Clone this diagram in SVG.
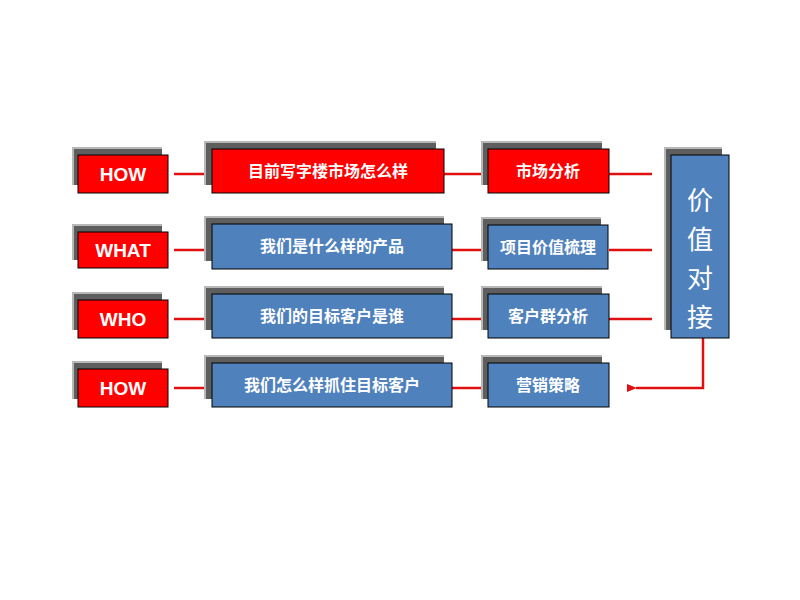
<svg xmlns="http://www.w3.org/2000/svg" width="800" height="600" viewBox="0 0 800 600">
<defs>
<style>
.sh1{fill:#b8b8b8}
.sh2{fill:#5e5e5e}
.red{fill:#ff0000;stroke:#000;stroke-width:1}
.blue{fill:#4f81bd;stroke:#000;stroke-width:1}
.t{fill:#fff;font-family:"Liberation Sans","Noto Sans CJK SC",sans-serif;font-weight:bold;font-size:16px;text-anchor:middle;dominant-baseline:central}
.en{font-size:19px}
.v{font-weight:normal;font-size:26px}
.ln{stroke:#e01010;stroke-width:2.5;fill:none}
</style>
<marker id="ah" markerWidth="10" markerHeight="8" refX="1" refY="4" orient="auto" markerUnits="userSpaceOnUse">
<path d="M10,0 L0,4 L10,8 Z" fill="#e01010"/>
</marker>
</defs>
<rect width="800" height="600" fill="#fff"/>
<g id="connectors">
<line class="ln" x1="174" y1="174" x2="212" y2="174"/>
<line class="ln" x1="444" y1="174" x2="488" y2="174"/>
<line class="ln" x1="609" y1="174" x2="652" y2="174"/>
<line class="ln" x1="174" y1="250" x2="212" y2="250"/>
<line class="ln" x1="452" y1="250" x2="488" y2="250"/>
<line class="ln" x1="609" y1="250" x2="652" y2="250"/>
<line class="ln" x1="174" y1="319" x2="212" y2="319"/>
<line class="ln" x1="452" y1="319" x2="488" y2="319"/>
<line class="ln" x1="609" y1="319" x2="652" y2="319"/>
<line class="ln" x1="174" y1="388" x2="212" y2="388"/>
<line class="ln" x1="452" y1="388" x2="488" y2="388"/>
<path class="ln" d="M703,338 L703,388 L636,388" marker-end="url(#ah)"/>
</g>
<g id="how1">
<rect class="sh1" x="72" y="147" width="90" height="38"/><rect class="sh2" x="74" y="149" width="88" height="36"/>
<rect class="red" x="78" y="155" width="90" height="38"/>
<text class="t en" x="123" y="174">HOW</text>
</g>
<g id="market">
<rect class="sh1" x="204" y="141" width="232" height="44"/><rect class="sh2" x="206" y="143" width="230" height="42"/>
<rect class="red" x="212" y="149" width="232" height="44"/>
<text class="t" x="328" y="171">目前写字楼市场怎么样</text>
</g>
<g id="market-analysis">
<rect class="sh1" x="481" y="141" width="121" height="44"/><rect class="sh2" x="483" y="143" width="119" height="42"/>
<rect class="red" x="488" y="149" width="121" height="44"/>
<text class="t" x="548" y="171">市场分析</text>
</g>
<g id="what">
<rect class="sh1" x="72" y="224" width="90" height="36"/><rect class="sh2" x="74" y="226" width="88" height="34"/>
<rect class="red" x="78" y="232" width="90" height="36"/>
<text class="t en" x="123" y="250">WHAT</text>
</g>
<g id="product">
<rect class="sh1" x="204" y="216" width="240" height="45"/><rect class="sh2" x="206" y="218" width="238" height="43"/>
<rect class="blue" x="212" y="224" width="240" height="45"/>
<text class="t" x="332" y="246">我们是什么样的产品</text>
</g>
<g id="value-sort">
<rect class="sh1" x="481" y="217" width="120" height="44"/><rect class="sh2" x="483" y="219" width="118" height="42"/>
<rect class="blue" x="488" y="225" width="120" height="44"/>
<text class="t" x="548" y="247">项目价值梳理</text>
</g>
<g id="who">
<rect class="sh1" x="72" y="292" width="90" height="38"/><rect class="sh2" x="74" y="294" width="88" height="36"/>
<rect class="red" x="78" y="300" width="90" height="38"/>
<text class="t en" x="123" y="319">WHO</text>
</g>
<g id="target">
<rect class="sh1" x="204" y="286" width="240" height="44"/><rect class="sh2" x="206" y="288" width="238" height="42"/>
<rect class="blue" x="212" y="294" width="240" height="44"/>
<text class="t" x="332" y="316">我们的目标客户是谁</text>
</g>
<g id="customer-group">
<rect class="sh1" x="481" y="286" width="121" height="44"/><rect class="sh2" x="483" y="288" width="119" height="42"/>
<rect class="blue" x="488" y="294" width="121" height="44"/>
<text class="t" x="548" y="316">客户群分析</text>
</g>
<g id="how2">
<rect class="sh1" x="72" y="361" width="90" height="38"/><rect class="sh2" x="74" y="363" width="88" height="36"/>
<rect class="red" x="78" y="369" width="90" height="38"/>
<text class="t en" x="123" y="388">HOW</text>
</g>
<g id="catch">
<rect class="sh1" x="204" y="355" width="240" height="44"/><rect class="sh2" x="206" y="357" width="238" height="42"/>
<rect class="blue" x="212" y="363" width="240" height="44"/>
<text class="t" x="332" y="385">我们怎么样抓住目标客户</text>
</g>
<g id="strategy">
<rect class="sh1" x="481" y="355" width="121" height="44"/><rect class="sh2" x="483" y="357" width="119" height="42"/>
<rect class="blue" x="488" y="363" width="121" height="44"/>
<text class="t" x="548" y="385">营销策略</text>
</g>
<g id="value-match">
<rect class="sh1" x="664" y="147" width="58" height="183"/><rect class="sh2" x="666" y="149" width="56" height="181"/>
<rect class="blue" x="671" y="155" width="58" height="183"/>
<text class="t v" x="700" y="201">价</text>
<text class="t v" x="700" y="240">值</text>
<text class="t v" x="700" y="279">对</text>
<text class="t v" x="700" y="318">接</text>
</g>
</svg>
